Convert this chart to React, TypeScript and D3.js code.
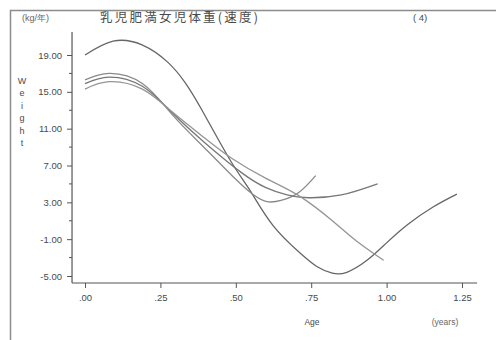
import React, { useEffect, useRef } from 'react'
import * as d3 from 'd3'

// age (years) and weight velocity (kg/yr)
const ageA = [0, 0.093, 0.189, 0.275, 0.332, 0.388, 0.481, 0.547, 0.623, 0.713, 0.77, 0.82, 0.868, 0.935, 1.0, 1.07, 1.154, 1.233]
const velA = [19.0, 20.5, 20.1, 18.2, 16.0, 13.0, 7.6, 4.3, 0.5, -2.5, -4.0, -4.7, -4.6, -3.3, -1.4, 0.6, 2.5, 3.9]

const ageB = [0, 0.08, 0.19, 0.29, 0.4, 0.5, 0.555, 0.6, 0.65, 0.71, 0.765]
const velB = [16.3, 17.0, 15.9, 12.5, 8.8, 5.5, 3.9, 3.1, 3.2, 4.1, 5.9]

const ageC = [0, 0.08, 0.19, 0.29, 0.4, 0.52, 0.6, 0.67, 0.74, 0.85, 0.97]
const velC = [15.9, 16.6, 15.6, 12.7, 9.4, 6.2, 4.6, 3.8, 3.5, 3.8, 5.0]

const ageD = [0, 0.08, 0.19, 0.29, 0.4, 0.49, 0.6, 0.71, 0.82, 0.9, 0.99]
const velD = [15.3, 16.1, 15.3, 12.8, 9.9, 7.7, 5.6, 3.7, 1.0, -1.2, -3.3]

const xTicks = [0, 0.25, 0.5, 0.75, 1.0, 1.25]
const xTickLabels = ['.00', '.25', '.50', '.75', '1.00', '1.25']
const yTicks = [19, 15, 11, 7, 3, -1, -5]
const yMinor = [17, 13, 9, 5, 1, -3]

const series = [
    { age: ageA, vel: velA, color: '#666666' },
    { age: ageB, vel: velB, color: '#8a8a8a' },
    { age: ageC, vel: velC, color: '#777777' },
    { age: ageD, vel: velD, color: '#959595' },
]

export default function App() {
    const ref = useRef<SVGSVGElement>(null)

    useEffect(() => {
        const svg = d3.select(ref.current)
        svg.selectAll('*').remove()

        const font = 'Liberation Sans, Arial, sans-serif'
        const textColor = '#4a4a4a'

        // scales
        const x = d3.scaleLinear().domain([0, 1.25]).range([85, 462])
        const y = d3.scaleLinear().domain([-5, 19]).range([276, 55])

        // outer frame
        svg.append('path')
            .attr('d', 'M10.5,340 L10.5,10.5 L496,10.5')
            .attr('fill', 'none')
            .attr('stroke', '#8c8c8c')
            .attr('stroke-width', 1.5)

        // axis lines
        const x0 = x(-0.043)
        const yBase = y(-5.76)
        svg.append('line')
            .attr('x1', x0).attr('x2', x0)
            .attr('y1', y(21.5)).attr('y2', yBase)
            .attr('stroke', '#555').attr('stroke-width', 1.2)
        svg.append('line')
            .attr('x1', x0).attr('x2', x(1.3))
            .attr('y1', yBase).attr('y2', yBase)
            .attr('stroke', '#555').attr('stroke-width', 1.2)

        // y ticks
        const yAxisGroup = svg.append('g').attr('transform', `translate(${x0}, 0)`)
        const yAxis = d3.axisLeft(y)
            .tickValues(yTicks)
            .tickSize(5)
            .tickPadding(5)
            .tickFormat(d => (d as number).toFixed(2))
        yAxisGroup.call(yAxis)
        yAxisGroup.select('.domain').remove()
        yAxisGroup.selectAll('line').attr('stroke', '#555')
        yAxisGroup.selectAll('text')
            .attr('fill', textColor)
            .attr('font-size', 9.5)
            .attr('font-family', font)
        yAxisGroup.selectAll('.minor')
            .data(yMinor)
            .enter()
            .append('line')
            .attr('x1', -3).attr('x2', 0)
            .attr('y1', d => y(d)).attr('y2', d => y(d))
            .attr('stroke', '#555')

        // x ticks
        const xAxisGroup = svg.append('g').attr('transform', `translate(0, ${yBase})`)
        const xAxis = d3.axisBottom(x)
            .tickValues(xTicks)
            .tickSize(5)
            .tickPadding(6)
            .tickFormat((d, i) => xTickLabels[i])
        xAxisGroup.call(xAxis)
        xAxisGroup.select('.domain').remove()
        xAxisGroup.selectAll('line').attr('stroke', '#555')
        xAxisGroup.selectAll('text')
            .attr('fill', textColor)
            .attr('font-size', 9.5)
            .attr('font-family', font)

        // curves
        const line = d3.line<[number, number]>()
            .x(d => x(d[0]))
            .y(d => y(d[1]))
            .curve(d3.curveNatural)

        series.forEach(s => {
            const pts: [number, number][] = s.age.map((a, i) => [a, s.vel[i]])
            svg.append('path')
                .datum(pts)
                .attr('d', line)
                .attr('fill', 'none')
                .attr('stroke', s.color)
                .attr('stroke-width', 1.3)
        })

        // labels
        svg.append('text')
            .attr('x', 22).attr('y', 21)
            .attr('fill', '#666').attr('font-size', 9).attr('font-family', font)
            .text('(kg/年)')
        svg.append('text')
            .attr('x', 100).attr('y', 22)
            .attr('fill', textColor).attr('font-size', 12.5)
            .attr('font-family', 'Noto Sans CJK JP, sans-serif')
            .attr('textLength', 158)
            .text('乳児肥満女児体重(速度)')
        svg.append('text')
            .attr('x', 413).attr('y', 21)
            .attr('fill', textColor).attr('font-size', 9.5).attr('font-family', font)
            .text('( 4)')

        // vertical "Weight"
        const letters = 'Weight'.split('')
        svg.selectAll('.ylab')
            .data(letters)
            .enter()
            .append('text')
            .attr('x', 22)
            .attr('y', (d, i) => 84 + i * 12.4)
            .attr('text-anchor', 'middle')
            .attr('fill', textColor).attr('font-size', 9).attr('font-family', font)
            .text(d => d)

        svg.append('text')
            .attr('x', 312).attr('y', 325)
            .attr('text-anchor', 'middle')
            .attr('fill', textColor).attr('font-size', 8.5).attr('font-family', font)
            .text('Age')
        svg.append('text')
            .attr('x', 445).attr('y', 325)
            .attr('text-anchor', 'middle')
            .attr('fill', '#666').attr('font-size', 8.5).attr('font-family', font)
            .text('(years)')
    }, [])

    return (
        <svg
            ref={ref}
            width={496}
            height={340}
            style={{ position: 'absolute', left: 0, top: 0, background: '#fff' }}
        />
    )
}
